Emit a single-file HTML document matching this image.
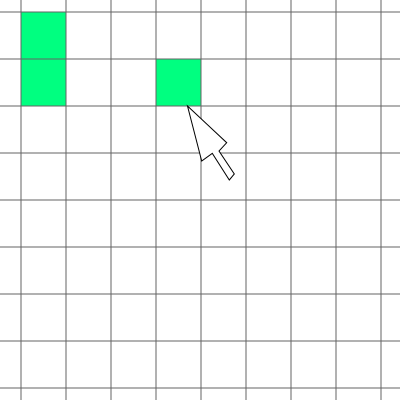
<!DOCTYPE html>
<html><head><meta charset="utf-8"><style>html,body{margin:0;padding:0;background:#fff;width:400px;height:400px;overflow:hidden}</style></head>
<body>
<svg id="grid" width="400" height="400" xmlns="http://www.w3.org/2000/svg"></svg>
<script>
const cols = [0,1,2,3,4,5,6,7,8];
const rows = [0,1,2,3,4,5,6,7,8];
const filledCol = [0,0,3];
const filledRow = [0,1,1];
const x0=21, dx=45, y0=12, dy=47;
const X=c=>x0+c*dx, Y=r=>y0+r*dy;
const svg=document.getElementById('grid');
const NS='http://www.w3.org/2000/svg';
for(let i=0;i<filledCol.length;i++){
  const r=document.createElementNS(NS,'rect');
  r.setAttribute('x',X(filledCol[i]));r.setAttribute('y',Y(filledRow[i]));
  r.setAttribute('width',dx);r.setAttribute('height',dy);r.setAttribute('fill','#00ff80');
  
  
  svg.appendChild(r);
}
cols.forEach(c=>{
  const l=document.createElementNS(NS,'line');
  l.setAttribute('x1',X(c));l.setAttribute('x2',X(c));l.setAttribute('y1',0);l.setAttribute('y2',400);
  l.setAttribute('stroke','rgba(100,100,100,0.5)');l.setAttribute('stroke-width','2');
  
  
  svg.appendChild(l);
});
rows.forEach(r=>{
  const l=document.createElementNS(NS,'line');
  l.setAttribute('y1',Y(r));l.setAttribute('y2',Y(r));l.setAttribute('x1',0);l.setAttribute('x2',400);
  l.setAttribute('stroke','rgba(100,100,100,0.5)');l.setAttribute('stroke-width','2');
  
  
  svg.appendChild(l);
});
const cur=document.createElementNS(NS,'polygon');
cur.setAttribute('points','187.5,106 226.7,142.7 219,151 234.3,174 229.3,180 212.3,153.3 201.7,161');
cur.setAttribute('fill','#fff');cur.setAttribute('stroke','#000');cur.setAttribute('stroke-width','1');


svg.appendChild(cur);
</script>
</body></html>
